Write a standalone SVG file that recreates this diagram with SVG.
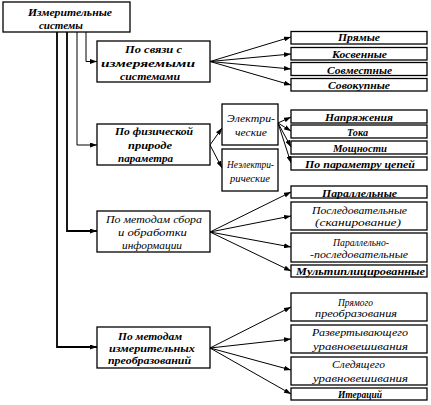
<svg xmlns="http://www.w3.org/2000/svg" width="431" height="405" viewBox="0 0 431 405" font-family="Liberation Serif, Times New Roman, serif">
<style>
.box{fill:#fff;stroke:#000;stroke-width:1.3}
.t{font-style:italic;font-size:11px;fill:#000}
.s{font-size:10px}
.b{font-weight:bold}
.c{stroke:#000;stroke-width:1;fill:none}
.ca{stroke:#000;stroke-width:1;fill:none;marker-end:url(#ar)}
.thick{stroke-width:1.8}
</style>
<defs>
<marker id="ar" markerUnits="userSpaceOnUse" markerWidth="7" markerHeight="5" refX="7" refY="2.5" orient="auto">
<path d="M0,0 L7,2.5 L0,5 z" fill="#000"/>
</marker>
</defs>
<rect width="431" height="405" fill="#fff"/>
<g id="connectors">
<path class="ca" d="M86,32 V61.5 H97"/>
<path class="ca" d="M77,32 V145 H97"/>
<path class="ca thick" d="M67,32 V231 H97"/>
<path class="ca thick" d="M57,32 V347 H97"/>
<path class="ca" d="M210,61.5 L291,37"/>
<path class="ca" d="M210,61.5 L291,54"/>
<path class="ca" d="M210,61.5 L291,69"/>
<path class="ca" d="M210,61.5 L291,85"/>
<path class="ca" d="M210,145 L222,128"/>
<path class="ca" d="M210,145 L222,168"/>
<path class="ca" d="M278,123 L291,117"/>
<path class="ca" d="M278,123 L291,131"/>
<path class="ca" d="M278,123 L291,147"/>
<path class="ca" d="M278,123 L291,163"/>
<path class="ca" d="M210,232 L291,192"/>
<path class="ca" d="M210,232 L291,216"/>
<path class="ca" d="M210,232 L291,247"/>
<path class="ca" d="M210,232 L291,271"/>
<path class="ca" d="M210,348 L291,307"/>
<path class="ca" d="M210,348 L291,339"/>
<path class="ca" d="M210,348 L291,370"/>
<path class="ca" d="M210,348 L291,394"/>
</g>
<g id="root">
<rect class="box" x="3" y="2" width="127" height="30"/>
<text class="t b" x="28" y="16" textLength="84" lengthAdjust="spacingAndGlyphs">Измерительные</text>
<text class="t b" x="39" y="28.5" textLength="44" lengthAdjust="spacingAndGlyphs">системы</text>
</g>
<g id="n-svyaz">
<rect class="box" x="97" y="41" width="113" height="41"/>
<text class="t b" x="125" y="53" textLength="57" lengthAdjust="spacingAndGlyphs">По связи с</text>
<text class="t b" x="101" y="66.5" textLength="94" lengthAdjust="spacingAndGlyphs">измеряемыми</text>
<text class="t b" x="120" y="79.5" textLength="60" lengthAdjust="spacingAndGlyphs">системами</text>
</g>
<g id="n-fiz">
<rect class="box" x="97" y="124" width="113" height="41"/>
<text class="t b" x="115" y="134.5" textLength="78" lengthAdjust="spacingAndGlyphs">По физической</text>
<text class="t b" x="128" y="148.5" textLength="44" lengthAdjust="spacingAndGlyphs">природе</text>
<text class="t b" x="118" y="161.5" textLength="55" lengthAdjust="spacingAndGlyphs">параметра</text>
</g>
<g id="n-sbor">
<rect class="box" x="97" y="211" width="113" height="41"/>
<text class="t" x="106" y="222.5" textLength="96" lengthAdjust="spacingAndGlyphs">По методам сбора</text>
<text class="t" x="118" y="235.5" textLength="69" lengthAdjust="spacingAndGlyphs">и обработки</text>
<text class="t" x="122" y="248.5" textLength="60" lengthAdjust="spacingAndGlyphs">информации</text>
</g>
<g id="n-preobr">
<rect class="box" x="97" y="327" width="113" height="41"/>
<text class="t b" x="118" y="340" textLength="64" lengthAdjust="spacingAndGlyphs">По методам</text>
<text class="t b s" x="109" y="352" textLength="86" lengthAdjust="spacingAndGlyphs">измерительных</text>
<text class="t b s" x="108" y="363.5" textLength="83" lengthAdjust="spacingAndGlyphs">преобразований</text>
</g>
<g id="n-pryamye">
<rect class="box" x="291" y="31.5" width="136" height="12.5"/>
<text class="t b" x="338" y="41" textLength="42" lengthAdjust="spacingAndGlyphs">Прямые</text>
</g>
<g id="n-kosv">
<rect class="box" x="291" y="47.5" width="136" height="12.5"/>
<text class="t b" x="332" y="57.5" textLength="55" lengthAdjust="spacingAndGlyphs">Косвенные</text>
</g>
<g id="n-sovm">
<rect class="box" x="291" y="62.5" width="136" height="13"/>
<text class="t b" x="327" y="73.5" textLength="65" lengthAdjust="spacingAndGlyphs">Совместные</text>
</g>
<g id="n-sovok">
<rect class="box" x="291" y="78.5" width="136" height="12.5"/>
<text class="t b" x="328" y="88.5" textLength="62" lengthAdjust="spacingAndGlyphs">Совокупные</text>
</g>
<g id="n-el">
<rect class="box" x="222" y="104" width="56" height="41"/>
<text class="t" x="227" y="121.5" textLength="48" lengthAdjust="spacingAndGlyphs">Электри-</text>
<text class="t" x="235" y="135.5" textLength="32" lengthAdjust="spacingAndGlyphs">ческие</text>
</g>
<g id="n-neel">
<rect class="box" x="222" y="149" width="56" height="42"/>
<text class="t" x="227" y="167.5" textLength="47" lengthAdjust="spacingAndGlyphs">Неэлектри-</text>
<text class="t" x="230" y="181.5" textLength="40" lengthAdjust="spacingAndGlyphs">рические</text>
</g>
<g id="n-napr">
<rect class="box" x="291" y="110" width="136" height="13"/>
<text class="t b" x="325" y="120.5" textLength="68" lengthAdjust="spacingAndGlyphs">Напряжения</text>
</g>
<g id="n-toka">
<rect class="box" x="291" y="125" width="136" height="13"/>
<text class="t b" x="347" y="135.5" textLength="21" lengthAdjust="spacingAndGlyphs">Тока</text>
</g>
<g id="n-mosch">
<rect class="box" x="291" y="141" width="136" height="13"/>
<text class="t b" x="333" y="151.5" textLength="54" lengthAdjust="spacingAndGlyphs">Мощности</text>
</g>
<g id="n-param">
<rect class="box" x="291" y="157" width="136" height="13"/>
<text class="t b" x="305" y="167.5" textLength="110" lengthAdjust="spacingAndGlyphs">По параметру цепей</text>
</g>
<g id="n-parall">
<rect class="box" x="291" y="186" width="136" height="12"/>
<text class="t b" x="322" y="196.5" textLength="75" lengthAdjust="spacingAndGlyphs">Параллельные</text>
</g>
<g id="n-posl">
<rect class="box" x="291" y="202" width="136" height="28"/>
<text class="t" x="312" y="214" textLength="95" lengthAdjust="spacingAndGlyphs">Последовательные</text>
<text class="t" x="315" y="225.5" textLength="86" lengthAdjust="spacingAndGlyphs">(сканирование)</text>
</g>
<g id="n-parposl">
<rect class="box" x="291" y="233" width="136" height="29"/>
<text class="t" x="333" y="245.5" textLength="56" lengthAdjust="spacingAndGlyphs">Параллельно-</text>
<text class="t" x="310" y="257.5" textLength="98" lengthAdjust="spacingAndGlyphs">-последовательные</text>
</g>
<g id="n-mult">
<rect class="box" x="291" y="265" width="136" height="12"/>
<text class="t b" x="296" y="274.5" textLength="129" lengthAdjust="spacingAndGlyphs">Мультиплицированные</text>
</g>
<g id="n-pryamogo">
<rect class="box" x="291" y="293" width="136" height="28"/>
<text class="t" x="338" y="305.5" textLength="35" lengthAdjust="spacingAndGlyphs">Прямого</text>
<text class="t" x="315" y="316.5" textLength="82" lengthAdjust="spacingAndGlyphs">преобразования</text>
</g>
<g id="n-razv">
<rect class="box" x="291" y="325" width="136" height="28"/>
<text class="t" x="312" y="335.5" textLength="96" lengthAdjust="spacingAndGlyphs">Развертывающего</text>
<text class="t" x="313" y="349.5" textLength="95" lengthAdjust="spacingAndGlyphs">уравновешивания</text>
</g>
<g id="n-sled">
<rect class="box" x="291" y="357" width="136" height="28"/>
<text class="t" x="332" y="367.5" textLength="53" lengthAdjust="spacingAndGlyphs">Следящего</text>
<text class="t" x="313" y="381.5" textLength="95" lengthAdjust="spacingAndGlyphs">уравновешивания</text>
</g>
<g id="n-iter">
<rect class="box" x="291" y="388" width="136" height="12"/>
<text class="t b" x="338" y="397.5" textLength="44" lengthAdjust="spacingAndGlyphs">Итераций</text>
</g>
</svg>
